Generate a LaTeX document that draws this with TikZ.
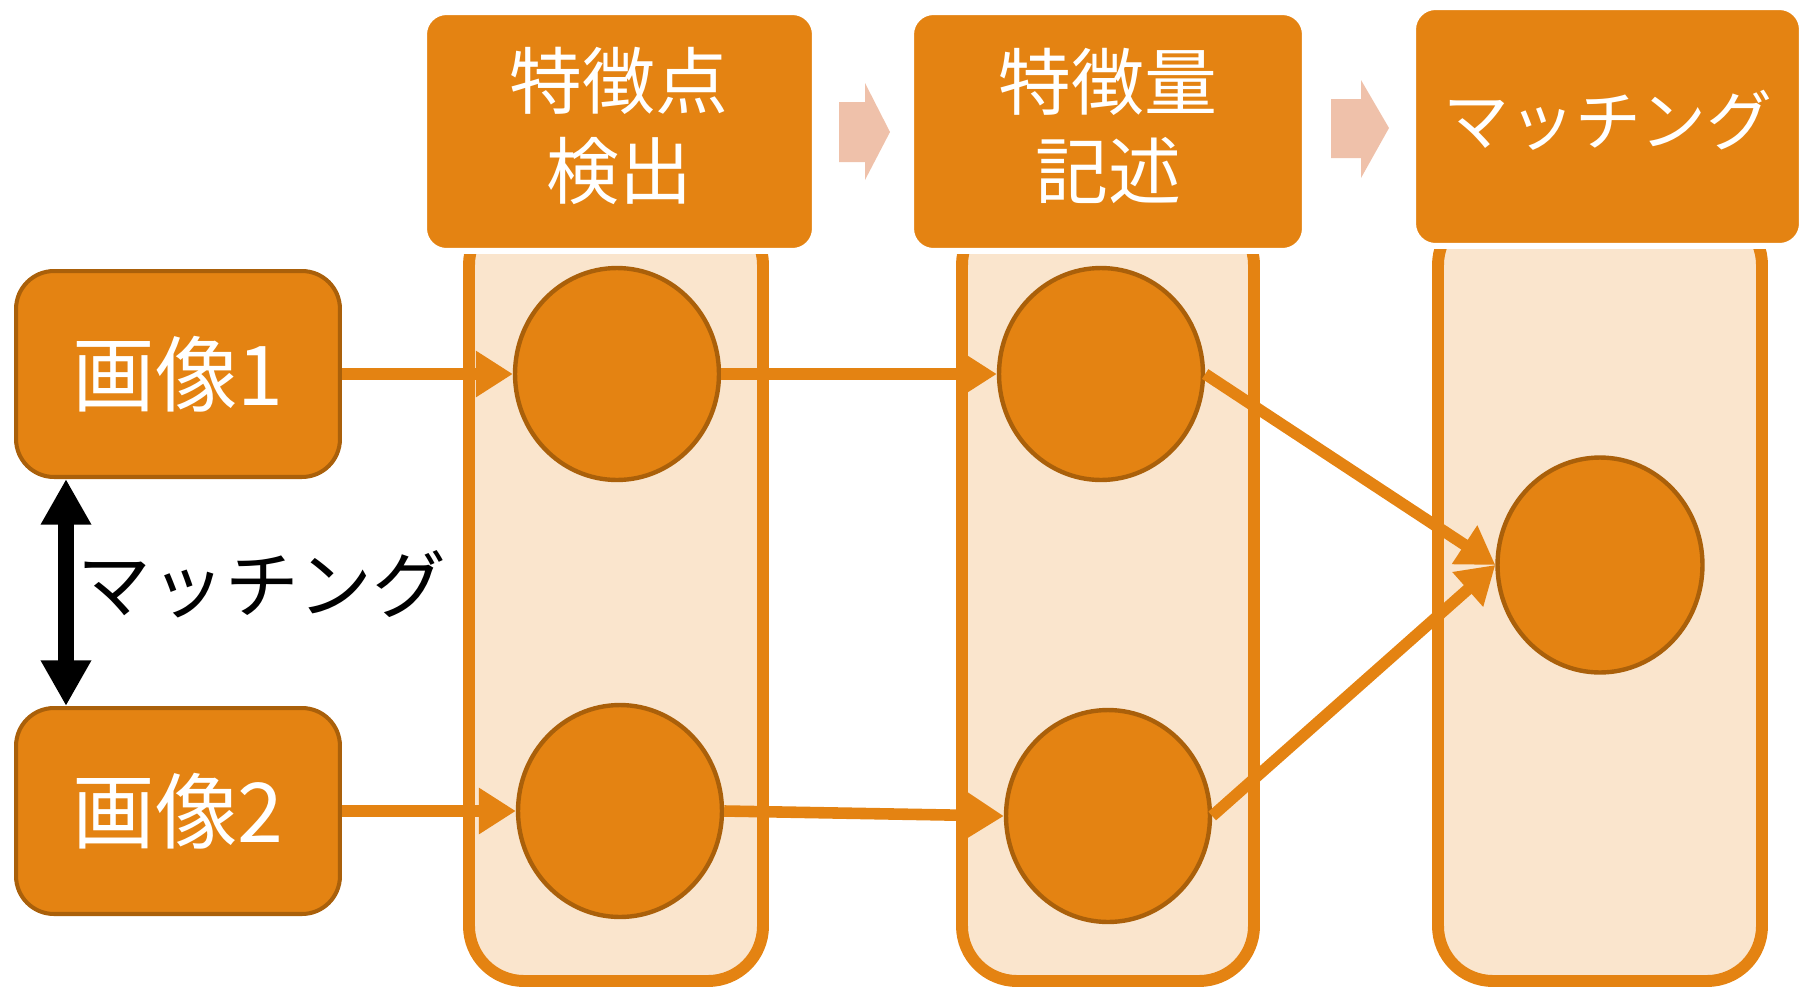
\documentclass[tikz,border=0pt]{standalone}
\usepackage{fontspec}
\newfontfamily\jp{Noto Sans CJK JP}
\usetikzlibrary{arrows.meta,shapes.geometric}
\definecolor{org}{HTML}{E48312}
\definecolor{dorg}{HTML}{AA600A}
\definecolor{lorg}{HTML}{FAE5CD}
\definecolor{pnk}{HTML}{EFC1AA}
\begin{document}
\begin{tikzpicture}[x=0.02cm,y=-0.02cm,
  colbox/.style={draw=org,fill=lorg,line width=6.8pt,rounded corners=1.1cm},
  hdr/.style={draw=white,fill=org,line width=3.4pt,rounded corners=0.45cm,inner sep=0pt},
  hdrtext/.style={text=white,align=center,inner sep=0pt,font=\jp\fontsize{41.5}{51}\selectfont},
  imgbox/.style={draw=dorg,fill=org,line width=2.3pt,rounded corners=0.76cm,text=white,
    minimum width=6.48cm,minimum height=4.12cm,font=\jp\fontsize{47}{56}\selectfont},
  dot/.style={ellipse,draw=dorg,fill=org,line width=2.5pt,inner sep=0pt,
    minimum width=4.08cm,minimum height=4.24cm},
  conn/.style={draw=org,line width=6.6pt,-{Triangle[length=21pt,width=25pt]}},
  dbl/.style={draw=black,line width=9pt,{Triangle[length=26pt,width=27pt]}-{Triangle[length=26pt,width=27pt]}},
  blockarrow/.style={fill=pnk}
]
\useasboundingbox (0,0) rectangle (1799,988);
% columns
\draw[colbox] (469,210) rectangle (763,981);
\draw[colbox] (962,210) rectangle (1254,981);
\draw[colbox] (1438,210) rectangle (1762,981);
% headers
\node[hdr,minimum width=7.82cm,minimum height=4.78cm] (h1) at (619.5,131.5) {};
\node[hdr,minimum width=7.88cm,minimum height=4.78cm] (h2) at (1108,131.5) {};
\node[hdr,minimum width=7.78cm,minimum height=4.78cm] (h3) at (1607.5,126.5) {};
\node[hdrtext] (t1) at (619,126) {特徴点\\検出};
\node[hdrtext] (t2) at (1108,126) {特徴量\\記述};
\node[hdrtext,font=\jp\fontsize{37.5}{45}\selectfont] (t3) at (1608,120) {マッチング};
% block arrows
\fill[blockarrow] (839,102) -- (865,102) -- (865,83) -- (890,132) -- (865,180) -- (865,162) -- (839,162) -- cycle;
\fill[blockarrow] (1331,99) -- (1361,99) -- (1361,80) -- (1389,128) -- (1361,178) -- (1361,158) -- (1331,158) -- cycle;
% image boxes
\node[imgbox] (b1) at (178,374) {画像1};
\node[imgbox] (b2) at (178,811) {画像2};
% circles
\node[dot] (c1) at (617,374) {};
\node[dot] (c2) at (1101,374) {};
\node[dot] (c3) at (620,811) {};
\node[dot] (c4) at (1108,816) {};
\node[dot,minimum width=4.1cm,minimum height=4.3cm] (c5) at (1600,565) {};
% connectors
\draw[conn] (b1.east) -- (c1.west);
\draw[conn] (c1.east) -- (c2.west);
\draw[conn] (b2.east) -- (c3.west);
\draw[conn] (c3.east) -- (c4.west);
\draw[conn] (c2.east) -- (c5.west);
\draw[conn] (c4.east) -- (c5.west);
% matching double arrow and label
\draw[dbl] ([xshift=1.04cm]b1.south west) -- ([xshift=1.04cm]b2.north west);
\node[font=\jp\fontsize{42}{50}\selectfont] (mt) at (262,584) {マッチング};
\end{tikzpicture}
\end{document}
